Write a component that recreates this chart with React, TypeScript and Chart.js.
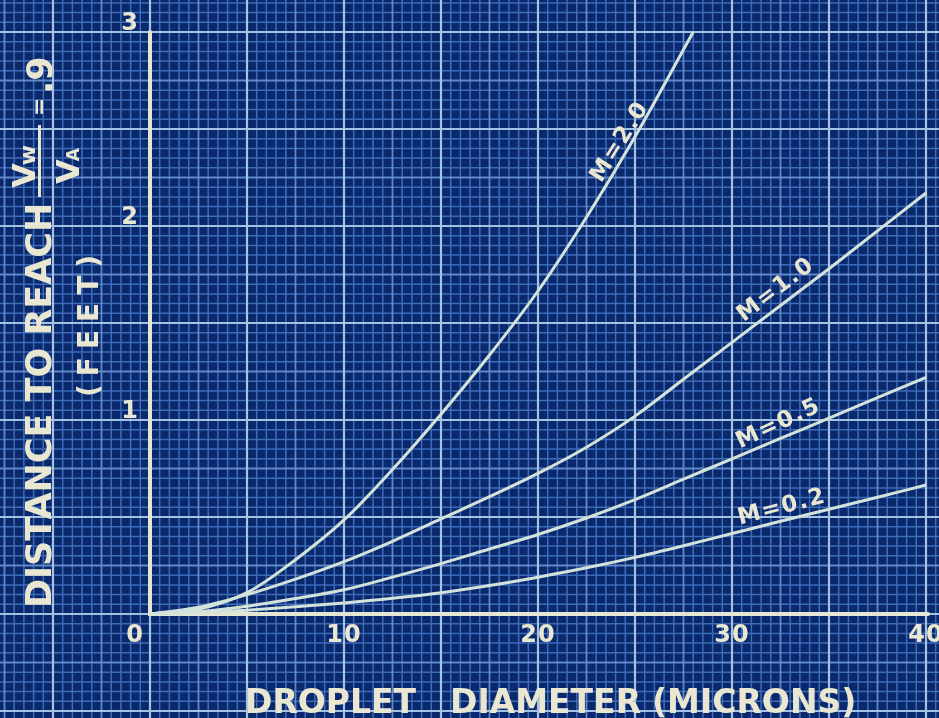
import { useEffect, useRef } from 'react';
import { Chart, registerables } from 'chart.js';

Chart.register(...registerables);

// ---- data ----
const diameters = [0, 2.5, 5, 7.5, 10, 12.5, 15, 17.5, 20, 22.5, 25, 27.5, 30, 32.5, 35, 37.5, 40];
const m20Diameters = [0, 2.5, 5, 7.5, 10, 12.5, 15, 17.5, 20, 22.5, 25, 28];
const m20Distance = [0, 0.025, 0.11, 0.28, 0.485, 0.745, 1.03, 1.335, 1.665, 2.045, 2.46, 3.0];
const m10Distance = [0, 0.035, 0.1, 0.18, 0.27, 0.375, 0.49, 0.605, 0.725, 0.86, 1.02, 1.21, 1.4, 1.59, 1.78, 1.975, 2.17];
const m05Distance = [0, 0.012, 0.04, 0.08, 0.125, 0.19, 0.26, 0.335, 0.41, 0.495, 0.59, 0.695, 0.8, 0.905, 1.01, 1.115, 1.22];
const m02Distance = [0, 0.006, 0.02, 0.037, 0.057, 0.081, 0.11, 0.147, 0.19, 0.238, 0.292, 0.352, 0.415, 0.478, 0.54, 0.602, 0.665];
const seriesNames = ['M=2.0', 'M=1.0', 'M=0.5', 'M=0.2'];
const xTickValues = [10, 20, 30, 40];
const yTickValues = [1, 2, 3];
const originLabel = '0';
const xTitleWords = ['DROPLET', 'DIAMETER', '(MICRONS)'];
const yTitleText = 'DISTANCE TO REACH';
const yUnitText = '(FEET)';

// label anchors (data coordinates) and rotation in degrees
const curveLabelX = [24.23, 32.27, 32.4, 32.58];
const curveLabelY = [2.433, 1.67, 0.979, 0.549];
const curveLabelAngle = [-58, -37.5, -25, -14.5];

// ---- styling ----
const X_MIN = -7.732;
const X_MAX = 40.67;
const Y_MIN = -0.536;
const Y_MAX = 3.165;
const BG = '#0a286c';
const MINOR = 'rgba(70,120,198,0.85)';
const MEDIUM = 'rgba(104,148,212,0.9)';
const MAJOR = '#a4c2e4';
const CURVE = '#d3e3dc';
const AXIS = '#e4e6d4';
const TEXT = '#e9e7d1';
const FONT = '"DejaVu Sans", sans-serif';

function setSpacing(ctx: any, px: number) {
  if ('letterSpacing' in ctx) ctx.letterSpacing = px + 'px';
}

const blueprintPlugin = {
  id: 'blueprint',
  beforeDraw(chart: any) {
    const { ctx } = chart;
    const xs = chart.scales.x;
    const ys = chart.scales.y;
    const W = chart.width;
    const H = chart.height;
    ctx.save();
    ctx.fillStyle = BG;
    ctx.fillRect(0, 0, W, H);

    const xStep = 0.5;
    const yStep = 0.05;
    const xi0 = Math.ceil(xs.min / xStep);
    const xi1 = Math.floor(xs.max / xStep);
    const yi0 = Math.ceil(ys.min / yStep - 1e-9);
    const yi1 = Math.floor(ys.max / yStep + 1e-9);

    const levels = [
      { test: (i: number) => i % 5 !== 0, color: MINOR, width: 1.5 },
      { test: (i: number) => i % 5 === 0 && i % 10 !== 0, color: MEDIUM, width: 1.8 },
      { test: (i: number) => i % 10 === 0, color: MAJOR, width: 2.2 },
    ];
    for (const lv of levels) {
      ctx.strokeStyle = lv.color;
      ctx.lineWidth = lv.width;
      ctx.beginPath();
      for (let i = xi0; i <= xi1; i++) {
        if (!lv.test(Math.abs(i))) continue;
        const px = xs.getPixelForValue(i * xStep);
        ctx.moveTo(px, 0);
        ctx.lineTo(px, H);
      }
      for (let i = yi0; i <= yi1; i++) {
        if (!lv.test(Math.abs(i))) continue;
        const py = ys.getPixelForValue(i * yStep);
        ctx.moveTo(0, py);
        ctx.lineTo(W, py);
      }
      ctx.stroke();
    }

    // axes
    const x0 = xs.getPixelForValue(0);
    const y0 = ys.getPixelForValue(0);
    ctx.strokeStyle = AXIS;
    ctx.lineWidth = 4;
    ctx.lineCap = 'round';
    ctx.beginPath();
    ctx.moveTo(x0, ys.getPixelForValue(yTickValues[yTickValues.length - 1]));
    ctx.lineTo(x0, y0);
    ctx.lineTo(xs.getPixelForValue(xTickValues[xTickValues.length - 1]) + 2, y0);
    ctx.stroke();
    ctx.restore();
  },
  afterDatasetsDraw(chart: any) {
    const { ctx } = chart;
    const xs = chart.scales.x;
    const ys = chart.scales.y;
    const x0 = xs.getPixelForValue(0);
    const y0 = ys.getPixelForValue(0);
    ctx.save();
    ctx.fillStyle = TEXT;

    // tick labels
    ctx.font = 'bold 24px ' + FONT;
    ctx.textAlign = 'center';
    ctx.textBaseline = 'middle';
    setSpacing(ctx, 1);
    for (const v of xTickValues) {
      ctx.fillText(String(v), xs.getPixelForValue(v), y0 + 22);
    }
    for (const v of yTickValues) {
      ctx.fillText(String(v), x0 - 20, ys.getPixelForValue(v) - 8);
    }
    ctx.fillText(originLabel, x0 - 15, y0 + 22);

    // curve labels
    ctx.font = 'bold 23px ' + FONT;
    setSpacing(ctx, 1.5);
    for (let i = 0; i < seriesNames.length; i++) {
      const px = xs.getPixelForValue(curveLabelX[i]);
      const py = ys.getPixelForValue(curveLabelY[i]);
      ctx.save();
      ctx.translate(px, py);
      ctx.rotate((curveLabelAngle[i] * Math.PI) / 180);
      ctx.fillText(seriesNames[i], 0, 0);
      ctx.restore();
    }

    // x title
    ctx.font = 'bold 33px ' + FONT;
    ctx.textAlign = 'left';
    ctx.textBaseline = 'alphabetic';
    setSpacing(ctx, 0);
    const wordX = [245, 450, 652];
    xTitleWords.forEach((w, i) => ctx.fillText(w, wordX[i], 713));

    // y title (rotated)
    ctx.save();
    ctx.translate(38, 608);
    ctx.rotate(-Math.PI / 2);
    ctx.font = 'bold 35px ' + FONT;
    ctx.fillText(yTitleText, 0, 13);
    // fraction Vw / VA
    ctx.font = 'bold 32px ' + FONT;
    ctx.fillText('V', 420, -3);
    let vw = ctx.measureText('V').width;
    ctx.font = 'bold 22px ' + FONT;
    ctx.fillText('w', 420 + vw - 2, -3);
    ctx.font = 'bold 32px ' + FONT;
    ctx.fillText('V', 424, 41);
    vw = ctx.measureText('V').width;
    ctx.font = 'bold 17px ' + FONT;
    ctx.fillText('A', 424 + vw - 2, 41);
    ctx.fillRect(411, 0, 72, 3);
    ctx.font = 'bold 22px ' + FONT;
    ctx.fillText('=', 492, 8);
    ctx.font = 'bold 35px ' + FONT;
    ctx.fillText('.9', 514, 14);
    // (FEET)
    ctx.font = 'bold 28px ' + FONT;
    setSpacing(ctx, 8);
    ctx.fillText(yUnitText, 211, 60);
    setSpacing(ctx, 0);
    ctx.restore();

    ctx.restore();
  },
};

function toPoints(xs: number[], ys: number[]) {
  return xs.map((x, i) => ({ x, y: ys[i] }));
}

export default function App() {
  const canvasRef = useRef<HTMLCanvasElement | null>(null);

  useEffect(() => {
    document.body.style.margin = '0';
    const canvas = canvasRef.current;
    if (!canvas) return;
    const series = [
      toPoints(m20Diameters, m20Distance),
      toPoints(diameters, m10Distance),
      toPoints(diameters, m05Distance),
      toPoints(diameters, m02Distance),
    ];
    const chart = new Chart(canvas, {
      type: 'line',
      data: {
        datasets: series.map((data, i) => ({
          label: seriesNames[i],
          data,
          borderColor: CURVE,
          borderWidth: 3,
          pointRadius: 0,
          fill: false,
          cubicInterpolationMode: 'monotone' as const,
        })),
      },
      options: {
        responsive: false,
        animation: false,
        events: [],
        layout: { padding: 0 },
        plugins: { legend: { display: false }, tooltip: { enabled: false } },
        scales: {
          x: { type: 'linear', min: X_MIN, max: X_MAX, display: false },
          y: { type: 'linear', min: Y_MIN, max: Y_MAX, display: false },
        },
      },
      plugins: [blueprintPlugin],
    });
    return () => chart.destroy();
  }, []);

  return (
    <div style={{ width: 939, height: 718, overflow: 'hidden' }}>
      <canvas ref={canvasRef} width={939} height={718} style={{ display: 'block' }} />
    </div>
  );
}
